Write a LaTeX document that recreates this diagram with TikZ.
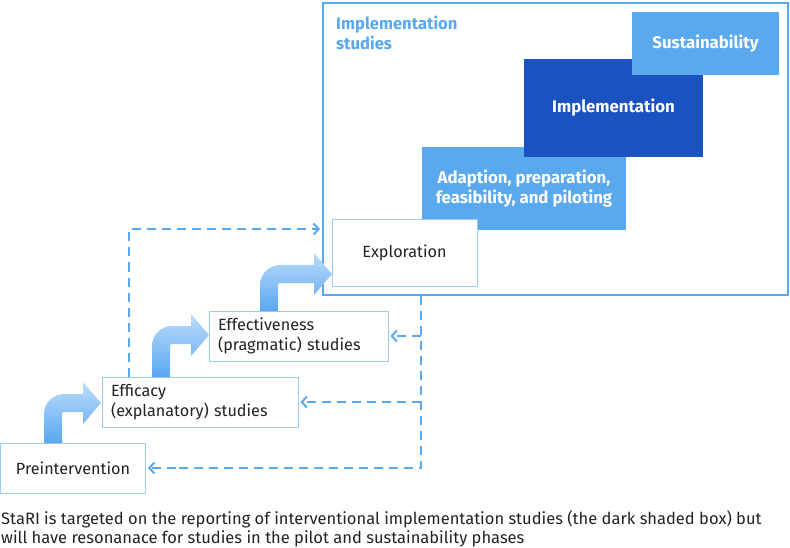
\documentclass[tikz,border=0pt]{standalone}
\usepackage{fontspec}
\setmainfont{Fira Sans}
\usetikzlibrary{arrows.meta}
\definecolor{lblue}{HTML}{5AA8EE}
\definecolor{dblue}{HTML}{1A53C0}
\definecolor{thinb}{HTML}{9CCBF0}
\definecolor{txt}{HTML}{222222}
\definecolor{agrtop}{HTML}{BCDDFA}
\definecolor{agrbot}{HTML}{5AA6F0}
\tikzset{
  whitebox/.style={draw=thinb, line width=1pt, fill=white, text=txt, font=\fontsize{16.2}{20}\selectfont},
  leftbox/.style={whitebox, align=left, inner xsep=9pt, inner ysep=0pt},
  phase/.style={text=white, font=\bfseries\fontsize{16.8}{20}\selectfont, align=center, inner sep=0pt},
  fb/.style={draw=lblue, line width=2pt, dash pattern=on 9pt off 6pt},
  fba/.style={fb, -{Straight Barb[length=5pt,width=11pt,line width=2pt]}, shorten >=2pt},
}
\newcommand{\bentarr}[4]{% stem-left x, shaft-centre y, stem height, tip length
  \begin{scope}[shift={(#1,#2)}]
    \shade[top color=agrtop, bottom color=agrbot]
      (0,#3) -- (0,11) .. controls (0,0) and (9,-9) .. (20,-9) -- (#4-18,-9) -- (#4-18,-21)
      -- (#4,0) -- (#4-18,21) -- (#4-18,9) -- (20,9) .. controls (19,9) and (18,10) .. (18,11)
      -- (18,#3) -- cycle;
  \end{scope}}
\begin{document}
\begin{tikzpicture}[x=1pt,y=-1pt]
\useasboundingbox (0,0) rectangle (790,548);
% implementation frame
\node[draw=lblue, line width=2pt, minimum width=465pt, minimum height=292pt, inner sep=0pt] (outer) at (555.5,149) {};
\node[anchor=north west, text=lblue, font=\bfseries\fontsize{16.6}{20}\selectfont, align=left, inner sep=0pt] (title) at (336,16) {Implementation\\studies};
% phases
\node[phase, fill=lblue, minimum width=204pt, minimum height=83pt] (adapt) at (524,188.5) {Adaption, preparation,\\feasibility, and piloting};
\node[phase, fill=dblue, minimum width=179pt, minimum height=98pt] (impl) at (613.5,108) {Implementation};
\node[phase, fill=lblue, minimum width=147pt, minimum height=63pt] (sust) at (705.5,43.5) {Sustainability};
\node[whitebox, minimum width=145pt, minimum height=66pt, inner sep=0pt] (explo) at (404.5,253) {Exploration};
% earlier studies
\node[leftbox, text width=161pt, minimum height=50pt] (effect) at (298.5,336) {Effectiveness\\(pragmatic) studies};
\node[leftbox, text width=178pt, minimum height=50pt] (effic) at (200,402) {Efficacy\\(explanatory) studies};
\node[whitebox, minimum width=145pt, minimum height=50pt, inner sep=0pt] (pre) at (73,468) {Preintervention};
% bent arrows
\bentarr{44}{403}{40}{57}
\bentarr{152}{335}{42}{57}
\bentarr{260}{274}{37}{72}
% feedback dashed lines
\coordinate (up) at (129,229);
\draw[fba] (effic.north -| up) -- (up) -- (outer.west |- up);
\coordinate (v) at (421,300);
\draw[fb] (outer.south -| v) -- (v |- pre.east) -- ([xshift=30pt]pre.east);
\draw[fba] ([xshift=30pt]pre.east) -- (pre.east);
\draw[fba] (v |- effic.east) -- (effic.east);
\draw[fba] (v |- effect.east) -- (effect.east);
% caption
\node[anchor=north west, align=left, inner sep=0pt, text=txt, font=\fontsize{16.5}{19.5}\selectfont] (cap) at (1,510) {StaRI is targeted on the reporting of interventional implementation studies (the dark shaded box) but\\will have resonanace for studies in the pilot and sustainability phases};
\end{tikzpicture}
\end{document}
